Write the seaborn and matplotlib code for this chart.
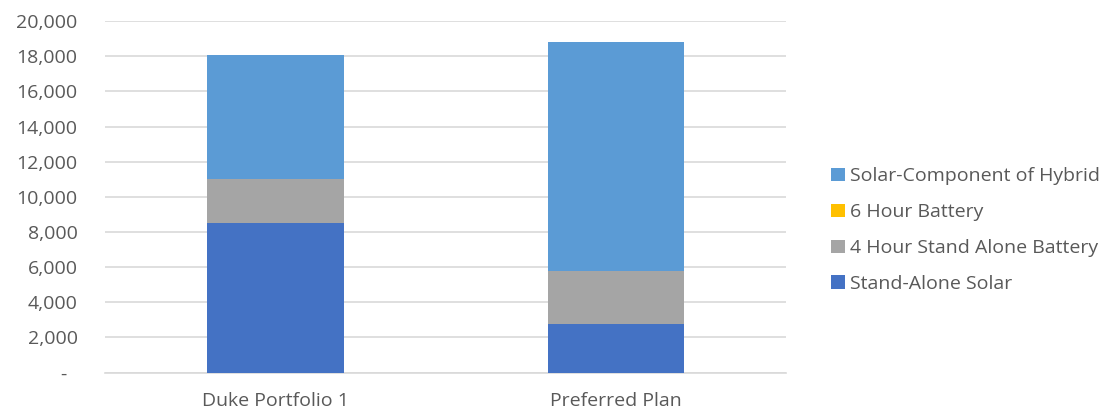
import matplotlib
matplotlib.use("Agg")
import matplotlib.pyplot as plt
import seaborn as sns
import pandas as pd
import numpy as np
from matplotlib.ticker import FuncFormatter
from matplotlib.patches import Patch

categories = ["Duke Portfolio 1", "Preferred Plan"]
stand_alone_solar = [8500, 2780]
four_hour_battery = [2500, 3020]
six_hour_battery = [0, 0]
solar_component_hybrid = [7050, 13020]

series_names = ["Stand-Alone Solar", "4 Hour Stand Alone Battery", "6 Hour Battery",
                "Solar-Component of Hybrid"]
series_values = [stand_alone_solar, four_hour_battery, six_hour_battery, solar_component_hybrid]
colors = ["#4472C4", "#A5A5A5", "#FFC000", "#5B9BD5"]

sns.set_theme(style="white")
plt.rcParams["font.family"] = ["Open Sans", "DejaVu Sans"]

fig = plt.figure(figsize=(11.2, 4.13), dpi=100)
ax = fig.add_axes([0.094, 0.098, 0.608, 0.851])

cum = np.cumsum(np.array(series_values, dtype=float), axis=0)
# draw tallest cumulative first so lower segments overlay
for i in reversed(range(len(series_names))):
    df = pd.DataFrame({"category": categories, "value": cum[i]})
    sns.barplot(data=df, x="category", y="value", color=colors[i], width=0.4,
                saturation=1, ax=ax, errorbar=None, linewidth=0, zorder=3)

ax.set_ylim(0, 20000)
ax.set_yticks(np.arange(0, 20001, 2000))
ax.yaxis.set_major_formatter(FuncFormatter(lambda v, p: "-  " if v == 0 else f"{int(v):,}"))
ax.grid(axis="y", color="#D9D9D9", linewidth=1.2, zorder=0)
ax.set_axisbelow(True)
for s in ["top", "right", "left"]:
    ax.spines[s].set_visible(False)
ax.spines["bottom"].set_color("#D9D9D9")
ax.spines["bottom"].set_linewidth(1.2)
ax.set_xlabel("")
ax.set_ylabel("")
ax.tick_params(axis="y", colors="#595959", labelsize=14, length=0, pad=20)
ax.tick_params(axis="x", colors="#595959", labelsize=14, length=0, pad=14)

handles = [Patch(facecolor=c, edgecolor="none", label=n) for c, n in zip(colors, series_names)]
leg = ax.legend(handles=handles[::-1], loc="center left", bbox_to_anchor=(1.04, 0.405),
                frameon=False, fontsize=14, labelcolor="#595959",
                handlelength=0.7, handleheight=0.7, handletextpad=0.3, labelspacing=0.92)

fig.savefig("out.png", dpi=100)
